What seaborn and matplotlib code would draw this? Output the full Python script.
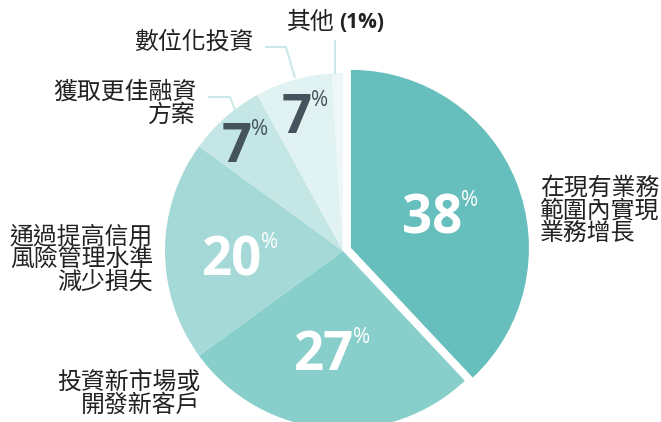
import matplotlib
matplotlib.use("Agg")
import matplotlib.pyplot as plt
import seaborn as sns

sns.set_style("white")
plt.rcParams['font.family'] = ['Noto Sans CJK TC', 'DejaVu Sans']

# ---- data ----
categories = ["在現有業務\n範圍內實現\n業務增長",
              "投資新市場或\n開發新客戶",
              "通過提高信用\n風險管理水準\n減少損失",
              "獲取更佳融資\n方案",
              "數位化投資",
              "其他"]
values = [38, 27, 20, 7, 7, 1]
value_labels = ["38", "27", "20", "7", "7", "1"]
colors = ["#66bfbc", "#88cfcb", "#a5d9d7", "#c4e6e5", "#e0f2f2", "#eef7f8"]

W, H = 661, 422
R = 178
# matplotlib applies explode as an absolute offset in data units
explode = [0.048 * R, 0, 0, 0, 0, 0]

fig = plt.figure(figsize=(W / 100, H / 100), dpi=100)
ax = fig.add_axes([0, 0, 1, 1])

def Y(y):
    return H - y

ax.pie(values, colors=colors, startangle=90, counterclock=False,
       explode=explode, radius=R, center=(343, Y(251)),
       wedgeprops=dict(linewidth=0))
ax.set_xlim(0, W)
ax.set_ylim(0, H)
ax.set_aspect('equal')
ax.axis('off')

# ---- percentage labels ----
num_font = ['Open Sans', 'DejaVu Sans']
# (right edge of number, baseline, colour)
num_pos = [(462, 233, 'white'), (354, 370, 'white'), (262, 275, 'white'),
           (252, 162, '#45535c'), (312, 133, '#45535c')]
for lab, (x, yb, c) in zip(value_labels[:5], num_pos):
    ax.text(x, Y(yb), lab, ha='right', va='baseline', color=c,
            fontsize=38, fontweight='bold', family=num_font)
    ax.text(x - 1, Y(yb - 43), "%", ha='left', va='top', color=c,
            fontsize=15, family=num_font)

# ---- category labels ----
lab_kw = dict(fontsize=17.2, color='#222222', linespacing=0.98)
ax.text(540, Y(177), categories[0], ha='left', va='top', multialignment='left', **lab_kw)
ax.text(200, Y(371), categories[1], ha='right', va='top', multialignment='right', **lab_kw)
ax.text(153, Y(225), categories[2], ha='right', va='top', multialignment='right', **lab_kw)
ax.text(196, Y(81), categories[3], ha='right', va='top', multialignment='right', **lab_kw)
ax.text(254, Y(31), categories[4], ha='right', va='top', multialignment='right', **lab_kw)
ax.text(287, Y(11), categories[5], ha='left', va='top', **lab_kw)
ax.text(339, Y(12), "(" + value_labels[5] + "%)", ha='left', va='top',
        fontsize=15, fontweight='bold', color='#222222', family=num_font)

# ---- leader lines ----
line_c = '#cce8e8'
ax.plot([265, 286, 295], [Y(47), Y(47), Y(78)], color=line_c, lw=1.5, solid_capstyle='butt')
ax.plot([208, 230, 235], [Y(97), Y(97), Y(110)], color=line_c, lw=1.5, solid_capstyle='butt')
ax.plot([335, 335], [Y(40), Y(74)], color=line_c, lw=1.5, solid_capstyle='butt')

fig.savefig("out.png", dpi=100)
